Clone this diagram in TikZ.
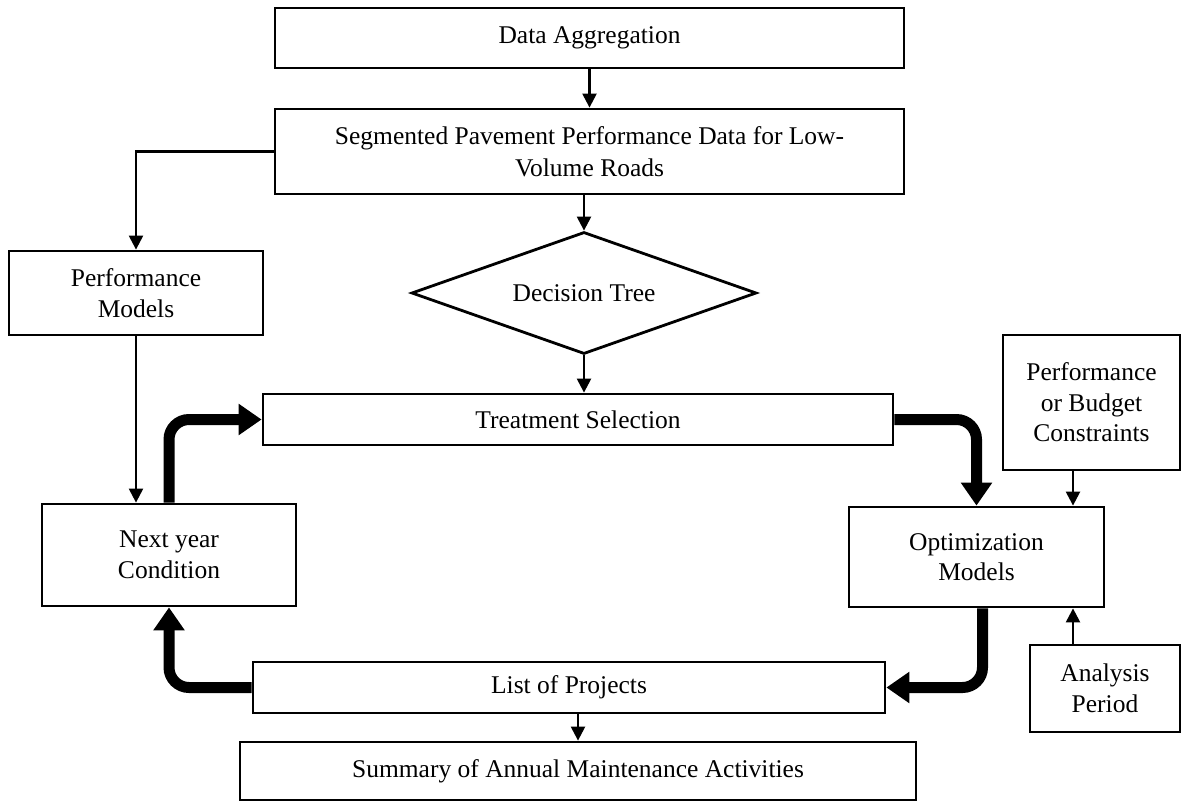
\documentclass[tikz,border=0pt]{standalone}
\usepackage{fontspec}
\setmainfont{Liberation Serif}
\usetikzlibrary{arrows.meta,shapes.geometric}

\begin{document}
\begin{tikzpicture}[x=1pt,y=-1pt,
  box/.style={draw,line width=2.8pt,inner sep=0pt,align=center,
    font=\fontsize{25.5}{30.5}\selectfont},
  decision/.style={box,shape=diamond,aspect=2.8},
  thinarrow/.style={line width=2.3pt,-{Triangle[length=14pt,width=14pt]}},
  thickarrow/.style={line width=11pt,rounded corners=20pt,
    -{Triangle[length=23pt,width=30pt]}}
]
\useasboundingbox (0,0) rectangle (1182,802);

% process boxes
\node[box,minimum width=629pt,minimum height=60pt] (agg) at (589.5,38) {Data Aggregation};
\node[box,minimum width=629pt,minimum height=85pt] (seg) at (589.5,151.5)
  {Segmented Pavement Performance Data for Low-\\[2pt]Volume Roads};
\node[box,minimum width=254pt,minimum height=84pt] (perf) at (136,293) {Performance\\Models};
\node[decision,minimum width=345pt,minimum height=122pt] (dt) at (584,293) {Decision Tree};
\node[box,minimum width=630pt,minimum height=51pt] (treat) at (578,419.5) {Treatment Selection};
\node[box,minimum width=254pt,minimum height=102pt] (next) at (169,555) {Next year\\Condition};
\node[box,minimum width=255pt,minimum height=100pt] (opt) at (976.5,557) {Optimization\\Models};
\node[box,minimum width=177pt,minimum height=135pt] (pbc) at (1091.5,402.5)
  {Performance\\or Budget\\Constraints};
\node[box,minimum width=150pt,minimum height=87pt] (ana) at (1105,688.5) {Analysis\\Period};
\node[box,minimum width=632pt,minimum height=51pt] (list) at (569,687.5) {List of Projects};
\node[box,minimum width=676pt,minimum height=58pt] (sum) at (578,771)
  {Summary of Annual Maintenance Activities};

% column shared by the two side inputs of the optimization step
\coordinate (side) at (1073,0);

% data flow
\draw[thinarrow] (agg) -- (seg);
\draw[thinarrow] (seg.west) -| (perf.north);
\draw[thinarrow] (seg.south -| dt.north) -- (dt.north);
\draw[thinarrow] (dt.south) -- (dt.south |- treat.north);
\draw[thinarrow] (perf.south) -- (perf.south |- next.north);
\draw[thinarrow] (pbc.south -| side) -- (opt.north -| side);
\draw[thinarrow] (ana.north -| side) -- (opt.south -| side);
\draw[thinarrow] (list.south -| sum.north) -- (sum.north);

% annual maintenance cycle
\draw[thickarrow] (next.north) |- (treat.west);
\draw[thickarrow] (treat.east) -| (opt.north);
\draw[thickarrow] ([xshift=6pt]opt.south) |- (list.east);
\draw[thickarrow] (list.west) -| (next.south);
\end{tikzpicture}
\end{document}
